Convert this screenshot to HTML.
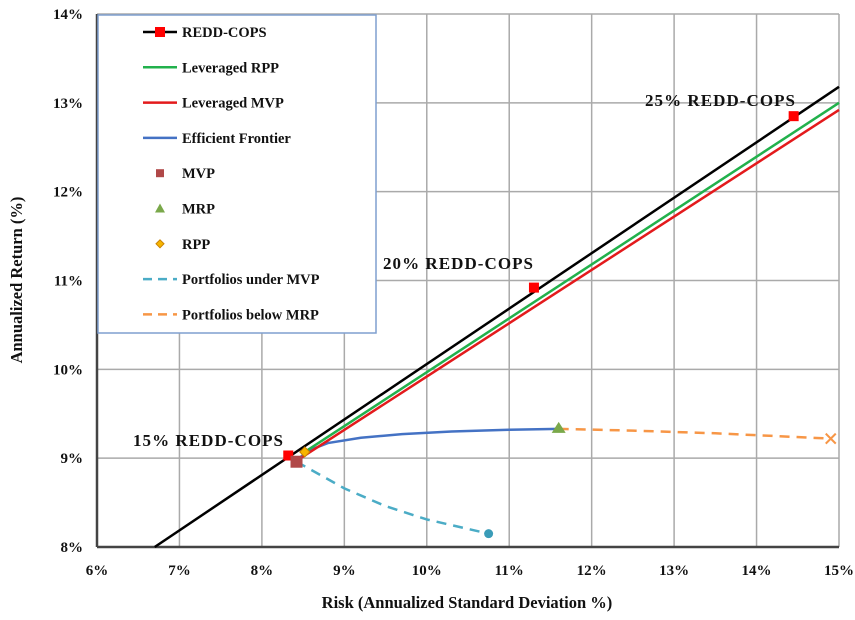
<!DOCTYPE html>
<html><head><meta charset="utf-8"><style>
body{margin:0;background:#fff}
text{font-family:"Liberation Serif",serif;font-weight:bold;fill:#111}
</style></head><body>
<svg id="chart" width="855" height="615" xmlns="http://www.w3.org/2000/svg">
<g id="grid"></g>
<g id="series"></g>
<g id="labels"></g>
<text x="467" y="608" text-anchor="middle" font-size="16.5">Risk (Annualized Standard Deviation %)</text>
<text transform="translate(22,280) rotate(-90)" text-anchor="middle" font-size="16.5">Annualized Return (%)</text>
<g id="legend"></g>
</svg>
<script>
const xTicks=[6,7,8,9,10,11,12,13,14,15];
const yTicks=[8,9,10,11,12,13,14];
const coopsLine=[[6.7,8],[15,13.18]];
const coopsPts=[[8.32,9.03],[11.3,10.92],[14.45,12.85]];
const coopsLabels=["15% REDD-COPS","20% REDD-COPS","25% REDD-COPS"];
const rppLine=[[8.52,9.07],[15,13.0]];
const mvpLine=[[8.42,8.97],[15,12.92]];
const frontier=[[8.42,8.97],[8.55,9.08],[8.8,9.17],[9.2,9.23],[9.7,9.27],[10.3,9.3],[11,9.32],[11.6,9.33]];
const underMvp=[[8.42,8.96],[9,8.66],[9.5,8.46],[10,8.31],[10.75,8.15]];
const belowMrp=[[11.6,9.33],[12.5,9.31],[13.5,9.28],[14.9,9.22]];
const mvpPt=[8.42,8.96], rppPt=[8.52,9.07], mrpPt=[11.6,9.33];
const X0=97,X1=839,Y0=547,Y1=14;
const sx=v=>X0+(v-6)/9*(X1-X0), sy=v=>Y0-(v-8)/6*(Y0-Y1);
const NS="http://www.w3.org/2000/svg";
function mk(p,t,a){const e=document.createElementNS(NS,t);for(const k in a)e.setAttribute(k,a[k]);p.appendChild(e);return e;}
const G=document.getElementById('grid'),S=document.getElementById('series'),L=document.getElementById('labels'),LG=document.getElementById('legend');
xTicks.forEach(v=>{const l=mk(G,'line',{x1:sx(v),x2:sx(v),y1:Y1,y2:Y0,stroke:'#aaa','stroke-width':1.5});

const t=mk(L,'text',{x:sx(v),y:Y0+28,'text-anchor':'middle','font-size':15});t.textContent=v+'%';
});
yTicks.forEach(v=>{const l=mk(G,'line',{x1:X0,x2:X1,y1:sy(v),y2:sy(v),stroke:'#aaa','stroke-width':1.5});

const t=mk(L,'text',{x:X0-14,y:sy(v)+5,'text-anchor':'end','font-size':15});t.textContent=v+'%';
});
const ax=mk(G,'line',{x1:X0,x2:X1,y1:Y0,y2:Y0,stroke:'#444','stroke-width':2.5});

const ay=mk(G,'line',{x1:X0,x2:X0,y1:Y1,y2:Y0,stroke:'#444','stroke-width':2.5});

const path=a=>a.map((p,i)=>(i?'L':'M')+sx(p[0])+','+sy(p[1])).join(' ');
function line(a,c,name,dash){const e=mk(S,'path',{d:path(a),fill:'none',stroke:c,'stroke-width':2.5});if(dash)e.setAttribute('stroke-dasharray',dash);
}
line(frontier,'#4472c4','efficient-frontier-line');
line(underMvp,'#4bacc6','portfolios-under-mvp-line','10,7');
line(belowMrp,'#f79646','portfolios-below-mrp-line','10,7');
line(mvpLine,'#e31a1c','leveraged-mvp-line');
line(rppLine,'#22b14c','leveraged-rpp-line');
line(coopsLine,'#000','redd-cops-line');
const labPos=[[283,446],[533,269],[795,106]];
coopsPts.forEach((p,i)=>{const r=mk(S,'rect',{x:sx(p[0])-5,y:sy(p[1])-5,width:10,height:10,fill:'#f00'});

const t=mk(L,'text',{x:labPos[i][0],y:labPos[i][1],'text-anchor':'end','font-size':17,textLength:150});t.textContent=coopsLabels[i];
});
let e=mk(S,'rect',{x:sx(mvpPt[0])-6,y:sy(mvpPt[1])-6,width:12,height:12,fill:'#b04848'});

e=mk(S,'path',{d:`M${sx(rppPt[0])},${sy(rppPt[1])-5}l5,5l-5,5l-5,-5z`,fill:'#f7b500',stroke:'#c88000'});

e=mk(S,'path',{d:`M${sx(mrpPt[0])},${sy(mrpPt[1])-7}l7,11h-14z`,fill:'#7aa84a'});

const u=underMvp[underMvp.length-1];e=mk(S,'circle',{cx:sx(u[0]),cy:sy(u[1]),r:4.5,fill:'#3a9cb8'});

const b=belowMrp[belowMrp.length-1];e=mk(S,'path',{d:`M${sx(b[0])-5},${sy(b[1])-5}l10,10M${sx(b[0])+5},${sy(b[1])-5}l-10,10`,stroke:'#f79646','stroke-width':2});

e=mk(LG,'rect',{x:98,y:15,width:278,height:318,fill:'#fff',stroke:'#7f9fcf','stroke-width':1.5});

const items=[["REDD-COPS","#000","sq"],["Leveraged RPP","#22b14c","ln"],["Leveraged MVP","#e31a1c","ln"],["Efficient Frontier","#4472c4","ln"],["MVP","#b04848","msq"],["MRP","#7aa84a","tri"],["RPP","#f7b500","dia"],["Portfolios under MVP","#4bacc6","dash"],["Portfolios below MRP","#f79646","dash"]];
items.forEach((it,i)=>{const y=32+i*35.3,g=mk(LG,'g',{});

const x0=143,x1=177,xc=160;
if(it[2]=='sq'||it[2]=='ln')mk(g,'line',{x1:x0,x2:x1,y1:y,y2:y,stroke:it[1],'stroke-width':2.5});
if(it[2]=='dash')mk(g,'line',{x1:x0,x2:x1,y1:y,y2:y,stroke:it[1],'stroke-width':2.5,'stroke-dasharray':'9,6'});
if(it[2]=='sq')mk(g,'rect',{x:xc-5,y:y-5,width:10,height:10,fill:'#f00'});
if(it[2]=='msq')mk(g,'rect',{x:xc-4,y:y-4,width:8,height:8,fill:it[1]});
if(it[2]=='tri')mk(g,'path',{d:`M${xc},${y-5}l5,9h-10z`,fill:it[1]});
if(it[2]=='dia')mk(g,'path',{d:`M${xc},${y-4}l4,4l-4,4l-4,-4z`,fill:it[1],stroke:'#c88000'});
const t=mk(g,'text',{x:182,y:y+5,'font-size':14.5});t.textContent=it[0];});
</script>
</body></html>
